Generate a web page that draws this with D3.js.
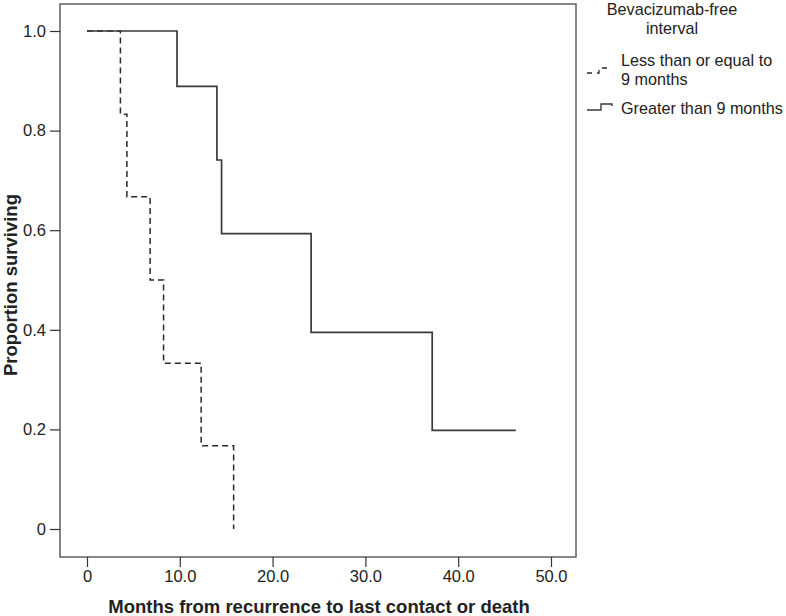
<!DOCTYPE html>
<html>
<head>
<meta charset="utf-8">
<script src="https://cdn.jsdelivr.net/npm/d3@7"></script>
<style>
  body { margin: 0; background: #fff; }
  text { font-family: Arial, "Liberation Sans", sans-serif; fill: #222; }
</style>
</head>
<body>
<div id="chart"></div>
<script>
// Kaplan-Meier steps
const lessTimes = [0, 3.6, 4.3, 6.8, 8.25, 12.3, 15.8];
const lessSurv = [1.0, 0.833, 0.667, 0.5, 0.333, 0.167, 0.0];
const greaterTimes = [0, 9.7, 14.0, 14.5, 24.15, 37.2, 46.2];
const greaterSurv = [1.0, 0.889, 0.741, 0.593, 0.395, 0.198, 0.198];

const xTicks = [0, 10, 20, 30, 40, 50];
const yTicks = [0, 0.2, 0.4, 0.6, 0.8, 1.0];

const legendTitle = ["Bevacizumab-free", "interval"];
const legendLabels = [["Less than or equal to", "9 months"], ["Greater than 9 months"]];

const width = 786, height = 616;
const frame = { left: 60, top: 4, right: 576, bottom: 557 };
const lineColor = "#3a3a3a";

const svg = d3.select("#chart").append("svg")
    .attr("width", width)
    .attr("height", height);

const xScale = d3.scaleLinear().domain([0, 50]).range([87, 551]);
const yScale = d3.scaleLinear().domain([0, 1]).range([529, 31]);

// plot frame
svg.append("rect")
    .attr("x", frame.left).attr("y", frame.top)
    .attr("width", frame.right - frame.left)
    .attr("height", frame.bottom - frame.top)
    .attr("fill", "none")
    .attr("stroke", "#555")
    .attr("stroke-width", 1.4);

const fmt = d => d === 0 ? "0" : d3.format(".1f")(d);

const xAxisG = svg.append("g")
    .attr("transform", `translate(0,${frame.bottom})`)
    .call(d3.axisBottom(xScale).tickValues(xTicks).tickFormat(fmt).tickSize(10).tickPadding(3));

const yAxisG = svg.append("g")
    .attr("transform", `translate(${frame.left},0)`)
    .call(d3.axisLeft(yScale).tickValues(yTicks).tickFormat(fmt).tickSize(10).tickPadding(4));

[xAxisG, yAxisG].forEach(g => {
    g.select(".domain").remove();
    g.selectAll(".tick line").attr("stroke", "#333").attr("stroke-width", 1.2);
    g.selectAll(".tick text")
        .attr("font-size", 16.5)
        .attr("font-family", "Arial, 'Liberation Sans', sans-serif")
        .attr("fill", "#222");
});

// survival curves
const line = d3.line()
    .x(d => xScale(d[0]))
    .y(d => yScale(d[1]))
    .curve(d3.curveStepAfter);

const lessData = d3.zip(lessTimes, lessSurv);
const greaterData = d3.zip(greaterTimes, greaterSurv);

svg.append("path")
    .datum(lessData)
    .attr("d", line)
    .attr("fill", "none")
    .attr("stroke", "#2a2a2a")
    .attr("stroke-width", 1.5)
    .attr("stroke-dasharray", "6,4");

svg.append("path")
    .datum(greaterData)
    .attr("d", line)
    .attr("fill", "none")
    .attr("stroke", lineColor)
    .attr("stroke-width", 1.7);

// axis titles
svg.append("text")
    .attr("x", 319)
    .attr("y", 613)
    .attr("text-anchor", "middle")
    .attr("font-size", 18.5)
    .attr("font-weight", "bold")
    .text("Months from recurrence to last contact or death");

svg.append("text")
    .attr("transform", `translate(17,285) rotate(-90)`)
    .attr("text-anchor", "middle")
    .attr("font-size", 18.5)
    .attr("font-weight", "bold")
    .text("Proportion surviving");

// legend
const legend = svg.append("g");
legend.selectAll(".legTitle")
    .data(legendTitle)
    .join("text")
    .attr("class", "legTitle")
    .attr("x", 672)
    .attr("y", (d, i) => 15 + i * 19)
    .attr("text-anchor", "middle")
    .attr("font-size", 16.2)
    .text(d => d);

const itemY = [66, 114];
legendLabels.forEach((lines, i) => {
    lines.forEach((t, j) => {
        legend.append("text")
            .attr("x", 621)
            .attr("y", itemY[i] + j * 19)
            .attr("font-size", 16.2)
            .text(t);
    });
});

// legend symbols: small step shapes
legend.append("path")
    .attr("d", "M587,73 H599 V68 H612")
    .attr("fill", "none")
    .attr("stroke", "#2a2a2a")
    .attr("stroke-width", 1.3)
    .attr("stroke-dasharray", "5,5");

legend.append("path")
    .attr("d", "M587,110 H601 V104 H612 V106")
    .attr("fill", "none")
    .attr("stroke", lineColor)
    .attr("stroke-width", 1.4);
</script>
</body>
</html>
